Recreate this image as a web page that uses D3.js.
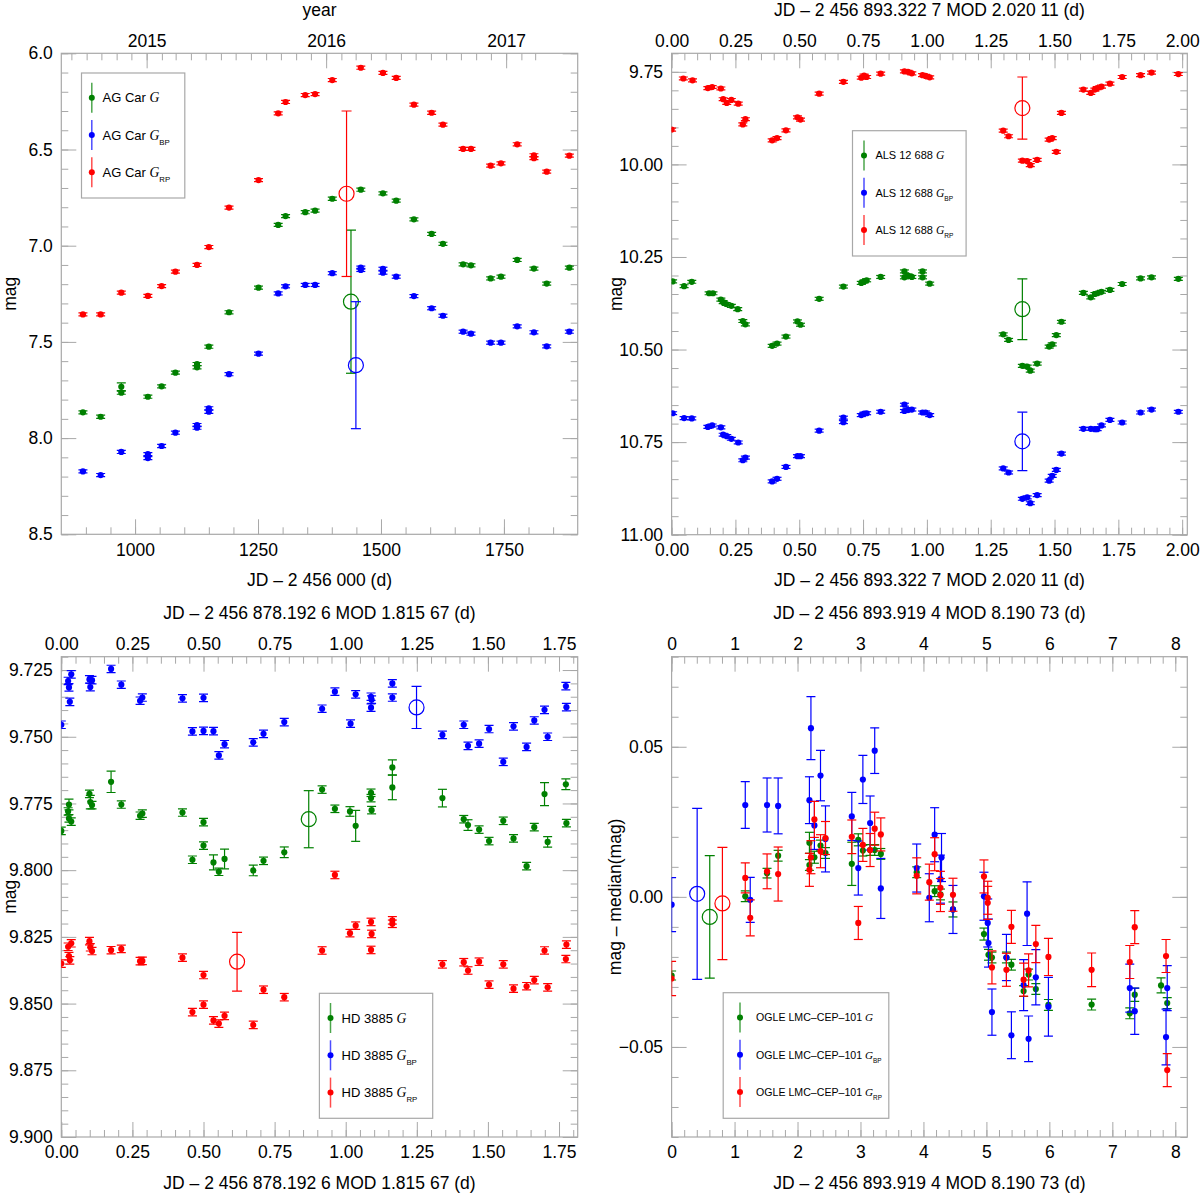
<!DOCTYPE html>
<html>
<head>
<meta charset="utf-8">
<script src="https://cdn.jsdelivr.net/npm/d3@7"></script>
<style>
body { margin: 0; background: #fff; }
svg { display: block; font-family: "Liberation Sans", Arial, Helvetica, sans-serif; }
.axis path { display: none; }
.axis line { stroke: #a8a8a8; }
.axis text { fill: #000; font-size: 17.5px; font-family: "Liberation Sans", Arial, sans-serif; }
</style>
</head>
<body>
<svg width="1200" height="1193"></svg>
<script>
// ---- data: AG Car (JD - 2456000, mag [, error]) ----
let agCarG = [[894,7.866],[930,7.889],[972,7.733,0.02],[972,7.764],[1026,7.785],[1054,7.731],[1082,7.66],[1126,7.615],[1126,7.632],[1150,7.525],[1191,7.346],[1251,7.218],[1291,6.892],[1306,6.846],[1346,6.826],[1366,6.818],[1401,6.756],[1459,6.709],[1504,6.728],[1531,6.766],[1567,6.863],[1603,6.939],[1626,6.99],[1667,7.097],[1683,7.102],[1723,7.17],[1744,7.161],[1777,7.074],[1811,7.119],[1837,7.197],[1883,7.114]];
let agCarBP = [[894,8.173],[930,8.192],[972,8.072],[1026,8.083],[1026,8.104],[1054,8.041],[1082,7.972],[1126,7.932],[1126,7.946],[1150,7.845],[1150,7.863],[1191,7.668],[1251,7.561],[1291,7.248],[1306,7.211],[1346,7.204],[1366,7.204],[1401,7.143],[1459,7.114],[1459,7.126],[1504,7.12],[1504,7.14],[1531,7.161],[1567,7.262],[1603,7.325],[1626,7.364],[1667,7.447],[1683,7.457],[1723,7.504],[1744,7.504],[1777,7.419],[1811,7.45],[1837,7.523],[1883,7.447]];
let agCarRP = [[894,7.357],[930,7.357],[972,7.244],[1026,7.261],[1054,7.21],[1082,7.135],[1126,7.1],[1150,7.007],[1191,6.802],[1251,6.659],[1291,6.312],[1306,6.253],[1346,6.217],[1366,6.212],[1401,6.139],[1459,6.075],[1504,6.102],[1531,6.128],[1567,6.267],[1603,6.309],[1626,6.371],[1667,6.497],[1683,6.497],[1723,6.584],[1744,6.572],[1777,6.473],[1811,6.53],[1811,6.545],[1837,6.615],[1883,6.532]];
let agCarMean = { G: [1439, 7.291, 0.372], BP: [1449, 7.621, 0.33], RP: [1430, 6.73, 0.43] };

// ---- data: ALS 12 688 (phase, mag) ----
let alsG = [[0.004,10.316],[0.049,10.329],[0.079,10.317],[0.147,10.348],[0.162,10.348],[0.193,10.365],[0.202,10.372],[0.214,10.377],[0.234,10.382],[0.259,10.391],[0.279,10.423],[0.289,10.432],[0.394,10.49],[0.413,10.484],[0.448,10.465],[0.493,10.424],[0.505,10.433],[0.578,10.363],[0.673,10.33],[0.743,10.32],[0.754,10.316],[0.764,10.313],[0.819,10.304],[0.912,10.289],[0.912,10.305],[0.926,10.3],[0.941,10.304],[0.983,10.289],[0.983,10.305],[1.011,10.322],[1.299,10.459],[1.32,10.474],[1.374,10.544],[1.393,10.546],[1.405,10.557],[1.432,10.538],[1.479,10.492],[1.491,10.486],[1.507,10.461],[1.527,10.425],[1.613,10.347],[1.642,10.359],[1.658,10.35],[1.667,10.348],[1.684,10.344],[1.717,10.339],[1.765,10.323],[1.837,10.308],[1.88,10.305],[1.985,10.309]];
let alsBP = [[0.004,10.672],[0.049,10.685],[0.079,10.686],[0.142,10.709],[0.159,10.705],[0.193,10.71],[0.202,10.73],[0.216,10.734],[0.234,10.741],[0.261,10.751],[0.279,10.799],[0.289,10.792],[0.394,10.856],[0.413,10.849],[0.448,10.817],[0.493,10.788],[0.505,10.788],[0.578,10.719],[0.673,10.684],[0.673,10.696],[0.743,10.677],[0.754,10.673],[0.764,10.672],[0.819,10.668],[0.912,10.649],[0.912,10.666],[0.926,10.663],[0.941,10.662],[0.983,10.67],[0.995,10.67],[1.011,10.677],[1.299,10.821],[1.32,10.832],[1.374,10.903],[1.393,10.899],[1.405,10.915],[1.432,10.893],[1.479,10.854],[1.491,10.841],[1.507,10.825],[1.527,10.781],[1.613,10.714],[1.642,10.714],[1.658,10.715],[1.667,10.715],[1.684,10.705],[1.717,10.69],[1.765,10.697],[1.837,10.67],[1.88,10.662],[1.985,10.668]];
let alsRP = [[0.0,9.906],[0.046,9.768],[0.082,9.773],[0.142,9.794],[0.159,9.791],[0.193,9.795],[0.202,9.824],[0.216,9.834],[0.234,9.826],[0.261,9.836],[0.279,9.892],[0.289,9.878],[0.394,9.935],[0.413,9.929],[0.448,9.908],[0.493,9.873],[0.505,9.879],[0.578,9.809],[0.673,9.777],[0.743,9.766],[0.754,9.76],[0.764,9.764],[0.819,9.755],[0.912,9.749],[0.926,9.75],[0.941,9.754],[0.983,9.759],[0.995,9.761],[1.011,9.765],[1.299,9.909],[1.32,9.924],[1.374,9.99],[1.393,9.991],[1.405,10.002],[1.432,9.988],[1.479,9.933],[1.491,9.929],[1.507,9.966],[1.527,9.861],[1.613,9.798],[1.642,9.807],[1.658,9.798],[1.667,9.794],[1.684,9.79],[1.717,9.782],[1.765,9.764],[1.837,9.759],[1.88,9.752],[1.985,9.756]];
let alsMean = { G: [1.374, 10.391, 0.082], BP: [1.374, 10.748, 0.079], RP: [1.374, 9.848, 0.084] };

// ---- data: HD 3885 (phase, mag [, error]) ----
let hdG = [[0.0,9.7853],[0.024,9.778],[0.027,9.7754,0.002],[0.027,9.7806],[0.035,9.7818],[0.099,9.7714],[0.102,9.7745,0.0025],[0.108,9.7756],[0.175,9.7669,0.004],[0.211,9.7754],[0.277,9.7796],[0.285,9.7788],[0.426,9.7784],[0.461,9.7961],[0.5,9.782],[0.5,9.7908],[0.535,9.7971,0.0028],[0.554,9.8006],[0.574,9.7958,0.0037],[0.675,9.8001,0.002],[0.711,9.7965],[0.784,9.7933,0.002],[0.917,9.7698],[0.962,9.777],[1.015,9.778,0.0018],[1.035,9.7834,0.0058],[1.089,9.771],[1.089,9.773],[1.091,9.7775],[1.164,9.7615,0.0028],[1.164,9.769,0.0046],[1.34,9.773,0.0033],[1.415,9.7809],[1.43,9.7831,0.002],[1.469,9.7848],[1.504,9.7891],[1.554,9.7815],[1.59,9.7881],[1.636,9.7985],[1.663,9.7839],[1.699,9.7715,0.0043],[1.71,9.7894,0.002],[1.774,9.7678,0.002],[1.776,9.7824]];
let hdBP = [[0.0,9.7455],[0.024,9.7291],[0.027,9.7315],[0.03,9.7369],[0.035,9.7266],[0.099,9.7285],[0.102,9.7314],[0.108,9.7288],[0.175,9.7246],[0.211,9.7305],[0.277,9.7365],[0.285,9.7353],[0.426,9.7356],[0.461,9.748],[0.5,9.7354],[0.5,9.7478],[0.535,9.7479],[0.554,9.757],[0.574,9.7528],[0.675,9.7521],[0.711,9.7489],[0.784,9.7445],[0.917,9.7395],[0.962,9.7331],[1.017,9.7451],[1.035,9.7341],[1.089,9.735],[1.091,9.7361],[1.089,9.7391],[1.164,9.73],[1.164,9.7353],[1.34,9.7493],[1.415,9.7455],[1.43,9.7534],[1.469,9.7526],[1.504,9.7471],[1.554,9.7594],[1.59,9.7461],[1.636,9.7538],[1.663,9.7439],[1.699,9.7399],[1.71,9.75],[1.774,9.731],[1.776,9.7389]];
let hdRP = [[0.0,9.835],[0.024,9.8287],[0.027,9.8322],[0.03,9.8338],[0.035,9.8274],[0.099,9.8266],[0.102,9.8289],[0.108,9.8303],[0.175,9.83],[0.211,9.8295],[0.277,9.8341],[0.285,9.834],[0.426,9.8328],[0.461,9.8532],[0.5,9.8393],[0.5,9.8504],[0.535,9.8563],[0.554,9.8575],[0.574,9.8546],[0.675,9.858],[0.711,9.8448],[0.784,9.8476],[0.917,9.8301],[0.962,9.8018],[1.015,9.8236],[1.035,9.8208],[1.089,9.8194],[1.091,9.8239],[1.089,9.8299],[1.164,9.8188],[1.164,9.8201],[1.34,9.8353],[1.415,9.8345],[1.43,9.8376],[1.469,9.8343],[1.504,9.8429],[1.554,9.8353],[1.59,9.8444],[1.636,9.8435],[1.663,9.8412],[1.699,9.8301],[1.71,9.8439],[1.774,9.8333],[1.776,9.8279]];
let hdMean = { G: [0.87, 9.7809, 0.0107], BP: [1.249, 9.739, 0.0079], RP: [0.618, 9.8343, 0.011] };

// ---- data: OGLE LMC-CEP-101 (phase, mag - median, error) ----
let ogleG = [[0.0,-0.0262,0.0015],[1.17,0.0002,0.0018],[1.516,0.0079,0.0016],[1.692,0.0137,0.0018],[2.189,0.0106,0.0018],[2.189,0.018,0.0035],[2.268,0.0132,0.002],[2.365,0.0171,0.0018],[2.444,0.0146,0.0018],[2.862,0.011,0.0072],[2.965,0.019,0.002],[3.038,0.0154,0.0018],[3.153,0.0156,0.0018],[3.226,0.0156,0.0018],[3.323,0.0143,0.0018],[3.893,0.0082,0.0018],[4.178,0.0019,0.0018],[4.27,0.0008,0.0018],[4.469,-0.0042,0.0025],[4.961,-0.0124,0.002],[5.033,-0.0193,0.0018],[5.088,-0.0202,0.0018],[5.318,-0.0202,0.0018],[5.397,-0.0226,0.0018],[5.591,-0.0314,0.0018],[5.67,-0.0259,0.0018],[5.785,-0.0307,0.0018],[5.985,-0.036,0.0018],[6.671,-0.0359,0.0018],[7.277,-0.0388,0.0018],[7.356,-0.0326,0.0022],[7.774,-0.0295,0.0025],[7.872,-0.0354,0.0018]];
let ogleBP = [[0.0,-0.0026,0.009],[1.17,0.0306,0.0078],[1.249,-0.001,0.0075],[1.516,0.0306,0.009],[1.692,0.0303,0.0093],[2.189,0.0322,0.0078],[2.213,0.0562,0.0105],[2.268,0.0238,0.008],[2.365,0.0404,0.0084],[2.444,0.0193,0.011],[2.862,0.0268,0.008],[2.965,0.0096,0.009],[3.038,0.0391,0.008],[3.153,0.0246,0.009],[3.226,0.0487,0.0076],[3.323,0.0028,0.01],[3.893,0.0096,0.008],[4.093,-0.0003,0.008],[4.178,0.0207,0.009],[4.27,0.0059,0.008],[4.287,0.0131,0.008],[4.469,-0.0042,0.008],[4.961,0.0002,0.008],[5.021,-0.0087,0.008],[5.033,-0.0154,0.008],[5.088,-0.0384,0.0077],[5.318,-0.0202,0.0077],[5.397,-0.0461,0.0078],[5.591,-0.0294,0.0085],[5.646,-0.0056,0.0106],[5.67,-0.0473,0.0076],[5.785,-0.0268,0.0092],[5.985,-0.0366,0.0098],[7.277,-0.0304,0.008],[7.356,-0.0381,0.0077],[7.853,-0.0467,0.0093],[7.872,-0.0304,0.0075]];
let ogleRP = [[0.0,-0.0272,0.0057],[1.17,0.0063,0.005],[1.249,-0.007,0.006],[1.516,0.0085,0.0058],[1.692,0.0076,0.009],[2.189,0.009,0.0055],[2.213,0.0132,0.0055],[2.268,0.0258,0.006],[2.365,0.0152,0.0055],[2.444,0.0196,0.0055],[2.862,0.02,0.0056],[2.965,-0.0087,0.0055],[3.038,0.0173,0.0055],[3.153,0.0156,0.0055],[3.226,0.0227,0.0055],[3.323,0.0208,0.0055],[3.893,0.007,0.006],[4.093,0.0049,0.006],[4.178,0.0142,0.0055],[4.27,0.003,0.0055],[4.27,0.0006,0.0055],[4.469,0.0007,0.0055],[4.961,0.0068,0.0055],[5.021,-0.0003,0.0055],[5.021,-0.002,0.0055],[5.088,-0.0235,0.0055],[5.318,-0.0243,0.0055],[5.397,-0.01,0.0055],[5.591,-0.0276,0.0055],[5.67,-0.0245,0.0055],[5.785,-0.0157,0.0062],[5.985,-0.02,0.0062],[6.671,-0.0243,0.0056],[7.277,-0.0217,0.0055],[7.356,-0.0101,0.0055],[7.853,-0.0197,0.0055],[7.872,-0.0577,0.0055]];
let ogleMean = { G: [0.606, -0.0067, 0.0204], BP: [0.406, 0.001, 0.0285], RP: [0.807, -0.0022, 0.0187] };

// ---- tick labels ----
let yearLabels = [2015, 2016, 2017];
let agCarXTicks = [1000, 1250, 1500, 1750];
let agCarYTicks = [6.0, 6.5, 7.0, 7.5, 8.0, 8.5];
let phaseTicks2 = [0, 0.25, 0.5, 0.75, 1.0, 1.25, 1.5, 1.75, 2.0];
let alsYTicks = [9.75, 10.0, 10.25, 10.5, 10.75, 11.0];
let phaseTicks3 = [0, 0.25, 0.5, 0.75, 1.0, 1.25, 1.5, 1.75];
let hdYTicks = [9.725, 9.75, 9.775, 9.8, 9.825, 9.85, 9.875, 9.9];
let phaseTicks4 = [0, 1, 2, 3, 4, 5, 6, 7, 8];
let ogleYTicks = [-0.05, 0, 0.05];

let bands = ["G", "BP", "RP"];
let colors = { G: "#008000", BP: "#0000ff", RP: "#ff0000" };
let frameColor = "#a8a8a8";

let svg = d3.select("svg");

let steps = (a, b, s) => d3.range(Math.round((b - a) / s) + 1).map(i => +(a + i * s).toFixed(6));
let jdOf = (date) => date.getTime() / 86400000 + 2440587.5 - 2456000;

let drawPanel = (p) => {
    let g = svg.append("g");
    let xScale = d3.scaleLinear().domain(p.xDomain).range([p.left, p.right]);
    let yScale = d3.scaleLinear().domain(p.yDomain).range([p.top, p.bottom]);

    svg.append("clipPath").attr("id", "clip" + p.id)
        .append("rect")
        .attr("x", p.left).attr("y", p.top)
        .attr("width", p.right - p.left).attr("height", p.bottom - p.top);

    let addAxis = (axis, tx, ty) => g.append("g").attr("class", "axis")
        .attr("transform", "translate(" + tx + "," + ty + ")").call(axis);
    let none = () => "";

    // bottom axis
    addAxis(d3.axisBottom(xScale).tickValues(p.xMinor).tickFormat(none).tickSizeInner(-7).tickSizeOuter(0), 0, p.bottom);
    addAxis(d3.axisBottom(xScale).tickValues(p.xMajor).tickFormat(p.xFormat).tickSizeInner(-15).tickSizeOuter(0).tickPadding(9), 0, p.bottom);
    // top axis
    addAxis(d3.axisTop(xScale).tickValues(p.topMinor).tickFormat(none).tickSizeInner(-7).tickSizeOuter(0), 0, p.top);
    addAxis(d3.axisTop(xScale).tickValues(p.topMajor).tickFormat(p.topFormat).tickSizeInner(-15).tickSizeOuter(0).tickPadding(6.5), 0, p.top);
    // left / right
    addAxis(d3.axisLeft(yScale).tickValues(p.yMinor).tickFormat(none).tickSizeInner(-7).tickSizeOuter(0), p.left, 0);
    addAxis(d3.axisLeft(yScale).tickValues(p.yMajor).tickFormat(p.yFormat).tickSizeInner(-15).tickSizeOuter(0).tickPadding(8.5), p.left, 0);
    addAxis(d3.axisRight(yScale).tickValues(p.yMinor).tickFormat(none).tickSizeInner(-7).tickSizeOuter(0), p.right, 0);
    addAxis(d3.axisRight(yScale).tickValues(p.yMajor).tickFormat(none).tickSizeInner(-15).tickSizeOuter(0), p.right, 0);

    g.append("rect")
        .attr("x", p.left).attr("y", p.top)
        .attr("width", p.right - p.left).attr("height", p.bottom - p.top)
        .attr("fill", "none").attr("stroke", frameColor).attr("stroke-width", 1.2);

    // titles
    let cx = (p.left + p.right) / 2;
    g.append("text").attr("x", cx).attr("y", p.top - 37.3).attr("text-anchor", "middle")
        .attr("font-size", 17.5).text(p.topTitle);
    g.append("text").attr("x", cx).attr("y", p.bottom + 51.5).attr("text-anchor", "middle")
        .attr("font-size", 17.5).text(p.bottomTitle);
    g.append("text").attr("transform", "translate(" + p.ylabX + "," + ((p.top + p.bottom) / 2) + ") rotate(-90)")
        .attr("text-anchor", "middle").attr("font-size", 17.5).text(p.yTitle);

    // data
    let plot = g.append("g").attr("clip-path", "url(#clip" + p.id + ")");
    bands.forEach((band) => {
        let color = colors[band];
        let data = p.series[band];
        let err = (d) => d[2] !== undefined ? d[2] : p.defErr[band];
        let s = plot.append("g").attr("stroke", color).attr("stroke-width", 1.2);
        s.selectAll(null).data(data).enter().append("line")
            .attr("x1", d => xScale(d[0])).attr("x2", d => xScale(d[0]))
            .attr("y1", d => yScale(d[1] - err(d))).attr("y2", d => yScale(d[1] + err(d)));
        [-1, 1].forEach((sign) => {
            s.selectAll(null).data(data).enter().append("line")
                .attr("x1", d => xScale(d[0]) - 4.5).attr("x2", d => xScale(d[0]) + 4.5)
                .attr("y1", d => yScale(d[1] + sign * err(d))).attr("y2", d => yScale(d[1] + sign * err(d)));
        });
        s.selectAll(null).data(data).enter().append("circle")
            .attr("cx", d => xScale(d[0])).attr("cy", d => yScale(d[1]))
            .attr("r", 3.1).attr("fill", color).attr("stroke", "none");

        // mean value with error (open circle)
        let m = p.mean[band];
        let mx = xScale(m[0]);
        s.append("line").attr("x1", mx).attr("x2", mx)
            .attr("y1", yScale(m[1] - m[2])).attr("y2", yScale(m[1] + m[2]));
        [-1, 1].forEach((sign) => {
            s.append("line").attr("x1", mx - 5).attr("x2", mx + 5)
                .attr("y1", yScale(m[1] + sign * m[2])).attr("y2", yScale(m[1] + sign * m[2]));
        });
        s.append("circle").attr("cx", mx).attr("cy", yScale(m[1])).attr("r", 7.5)
            .attr("fill", "none").attr("stroke", color).attr("stroke-width", 1.2);
    });

    // legend
    let lg = p.legend;
    let lgG = g.append("g");
    lgG.append("rect").attr("x", lg.x).attr("y", lg.y).attr("width", lg.w).attr("height", lg.h)
        .attr("fill", "#fff").attr("stroke", frameColor).attr("stroke-width", 1.2);
    bands.forEach((band, i) => {
        let cy = lg.y + 24.7 + i * 37.3;
        lgG.append("line").attr("x1", lg.sx).attr("x2", lg.sx).attr("y1", cy - 15).attr("y2", cy + 15)
            .attr("stroke", colors[band]).attr("stroke-opacity", 0.7).attr("stroke-width", 1.5);
        lgG.append("circle").attr("cx", lg.sx).attr("cy", cy).attr("r", 3).attr("fill", colors[band]);
        let t = lgG.append("text").attr("x", lg.sx + lg.gap).attr("y", cy + lg.fs * 0.36)
            .attr("font-size", lg.fs).text(p.name + " ");
        t.append("tspan").attr("font-family", "'Liberation Serif', 'Times New Roman', serif")
            .attr("font-style", "italic").attr("font-size", lg.fs * 1.05).text("G");
        if (band !== "G") {
            t.append("tspan").attr("font-size", lg.fs * 0.6).attr("dy", lg.fs * 0.38).text(band);
        }
    });
};

// panel 1: AG Car
let monthTicks = d3.utcMonth.range(new Date(Date.UTC(2014, 7, 1)), new Date(Date.UTC(2017, 3, 1))).map(jdOf);
let yearTicks = yearLabels.map(yr => jdOf(new Date(Date.UTC(yr, 0, 1))));

drawPanel({
    id: 1, left: 61.3, right: 577.7, top: 53.3, bottom: 534.3,
    xDomain: [850, 1900], yDomain: [6.0, 8.5],
    xMajor: agCarXTicks, xMinor: steps(900, 1850, 50), xFormat: d3.format("d"),
    topMajor: yearTicks, topMinor: monthTicks, topFormat: (d, i) => yearLabels[i],
    yMajor: agCarYTicks, yMinor: steps(6.0, 8.5, 0.1), yFormat: d3.format(".1f"),
    topTitle: "year", bottomTitle: "JD \u2013 2 456 000 (d)", yTitle: "mag", ylabX: 16,
    name: "AG Car",
    series: { G: agCarG, BP: agCarBP, RP: agCarRP }, mean: agCarMean,
    defErr: { G: 0.008, BP: 0.008, RP: 0.008 },
    legend: { x: 81.5, y: 73, w: 103.3, h: 125, sx: 91.8, gap: 10.7, fs: 13 }
});

// panel 2: ALS 12 688
let title2 = "JD \u2013 2 456 893.322 7 MOD 2.020 11 (d)";
drawPanel({
    id: 2, left: 671.6, right: 1187.3, top: 53.3, bottom: 534.7,
    xDomain: [0, 2.02011], yDomain: [9.7, 11.0],
    xMajor: phaseTicks2, xMinor: steps(0, 2.0, 0.05), xFormat: d3.format(".2f"),
    topMajor: phaseTicks2, topMinor: steps(0, 2.0, 0.05), topFormat: d3.format(".2f"),
    yMajor: alsYTicks, yMinor: steps(9.7, 11.0, 0.05), yFormat: d3.format(".2f"),
    topTitle: title2, bottomTitle: title2, yTitle: "mag", ylabX: 622,
    name: "ALS 12 688",
    series: { G: alsG, BP: alsBP, RP: alsRP }, mean: alsMean,
    defErr: { G: 0.004, BP: 0.004, RP: 0.004 },
    legend: { x: 852.5, y: 130.7, w: 113.6, h: 125.3, sx: 864, gap: 11.4, fs: 11 }
});

// panel 3: HD 3885
let title3 = "JD \u2013 2 456 878.192 6 MOD 1.815 67 (d)";
drawPanel({
    id: 3, left: 61.3, right: 577.7, top: 656.7, bottom: 1137,
    xDomain: [0, 1.81567], yDomain: [9.72, 9.9],
    xMajor: phaseTicks3, xMinor: steps(0, 1.8, 0.05), xFormat: d3.format(".2f"),
    topMajor: phaseTicks3, topMinor: steps(0, 1.8, 0.05), topFormat: d3.format(".2f"),
    yMajor: hdYTicks, yMinor: steps(9.72, 9.9, 0.005), yFormat: d3.format(".3f"),
    topTitle: title3, bottomTitle: title3, yTitle: "mag", ylabX: 16,
    name: "HD 3885",
    series: { G: hdG, BP: hdBP, RP: hdRP }, mean: hdMean,
    defErr: { G: 0.0014, BP: 0.0014, RP: 0.0014 },
    legend: { x: 319.4, y: 993.3, w: 113.3, h: 125, sx: 330.5, gap: 11.1, fs: 13 }
});

// panel 4: OGLE LMC-CEP-101
let title4 = "JD \u2013 2 456 893.919 4 MOD 8.190 73 (d)";
drawPanel({
    id: 4, left: 671.6, right: 1187.3, top: 656.7, bottom: 1137,
    xDomain: [0, 8.19073], yDomain: [0.08, -0.08],
    xMajor: phaseTicks4, xMinor: steps(0, 8.0, 0.2), xFormat: d3.format("d"),
    topMajor: phaseTicks4, topMinor: steps(0, 8.0, 0.2), topFormat: d3.format("d"),
    yMajor: ogleYTicks, yMinor: steps(-0.08, 0.08, 0.01), yFormat: d3.format(".2f"),
    topTitle: title4, bottomTitle: title4, yTitle: "mag \u2013 median(mag)", ylabX: 621,
    name: "OGLE LMC\u2013CEP\u2013101",
    series: { G: ogleG, BP: ogleBP, RP: ogleRP }, mean: ogleMean,
    defErr: { G: 0.0018, BP: 0.008, RP: 0.0055 },
    legend: { x: 723.2, y: 992.7, w: 165.6, h: 125.6, sx: 740, gap: 16.1, fs: 10.6 }
});
</script>
</body>
</html>
